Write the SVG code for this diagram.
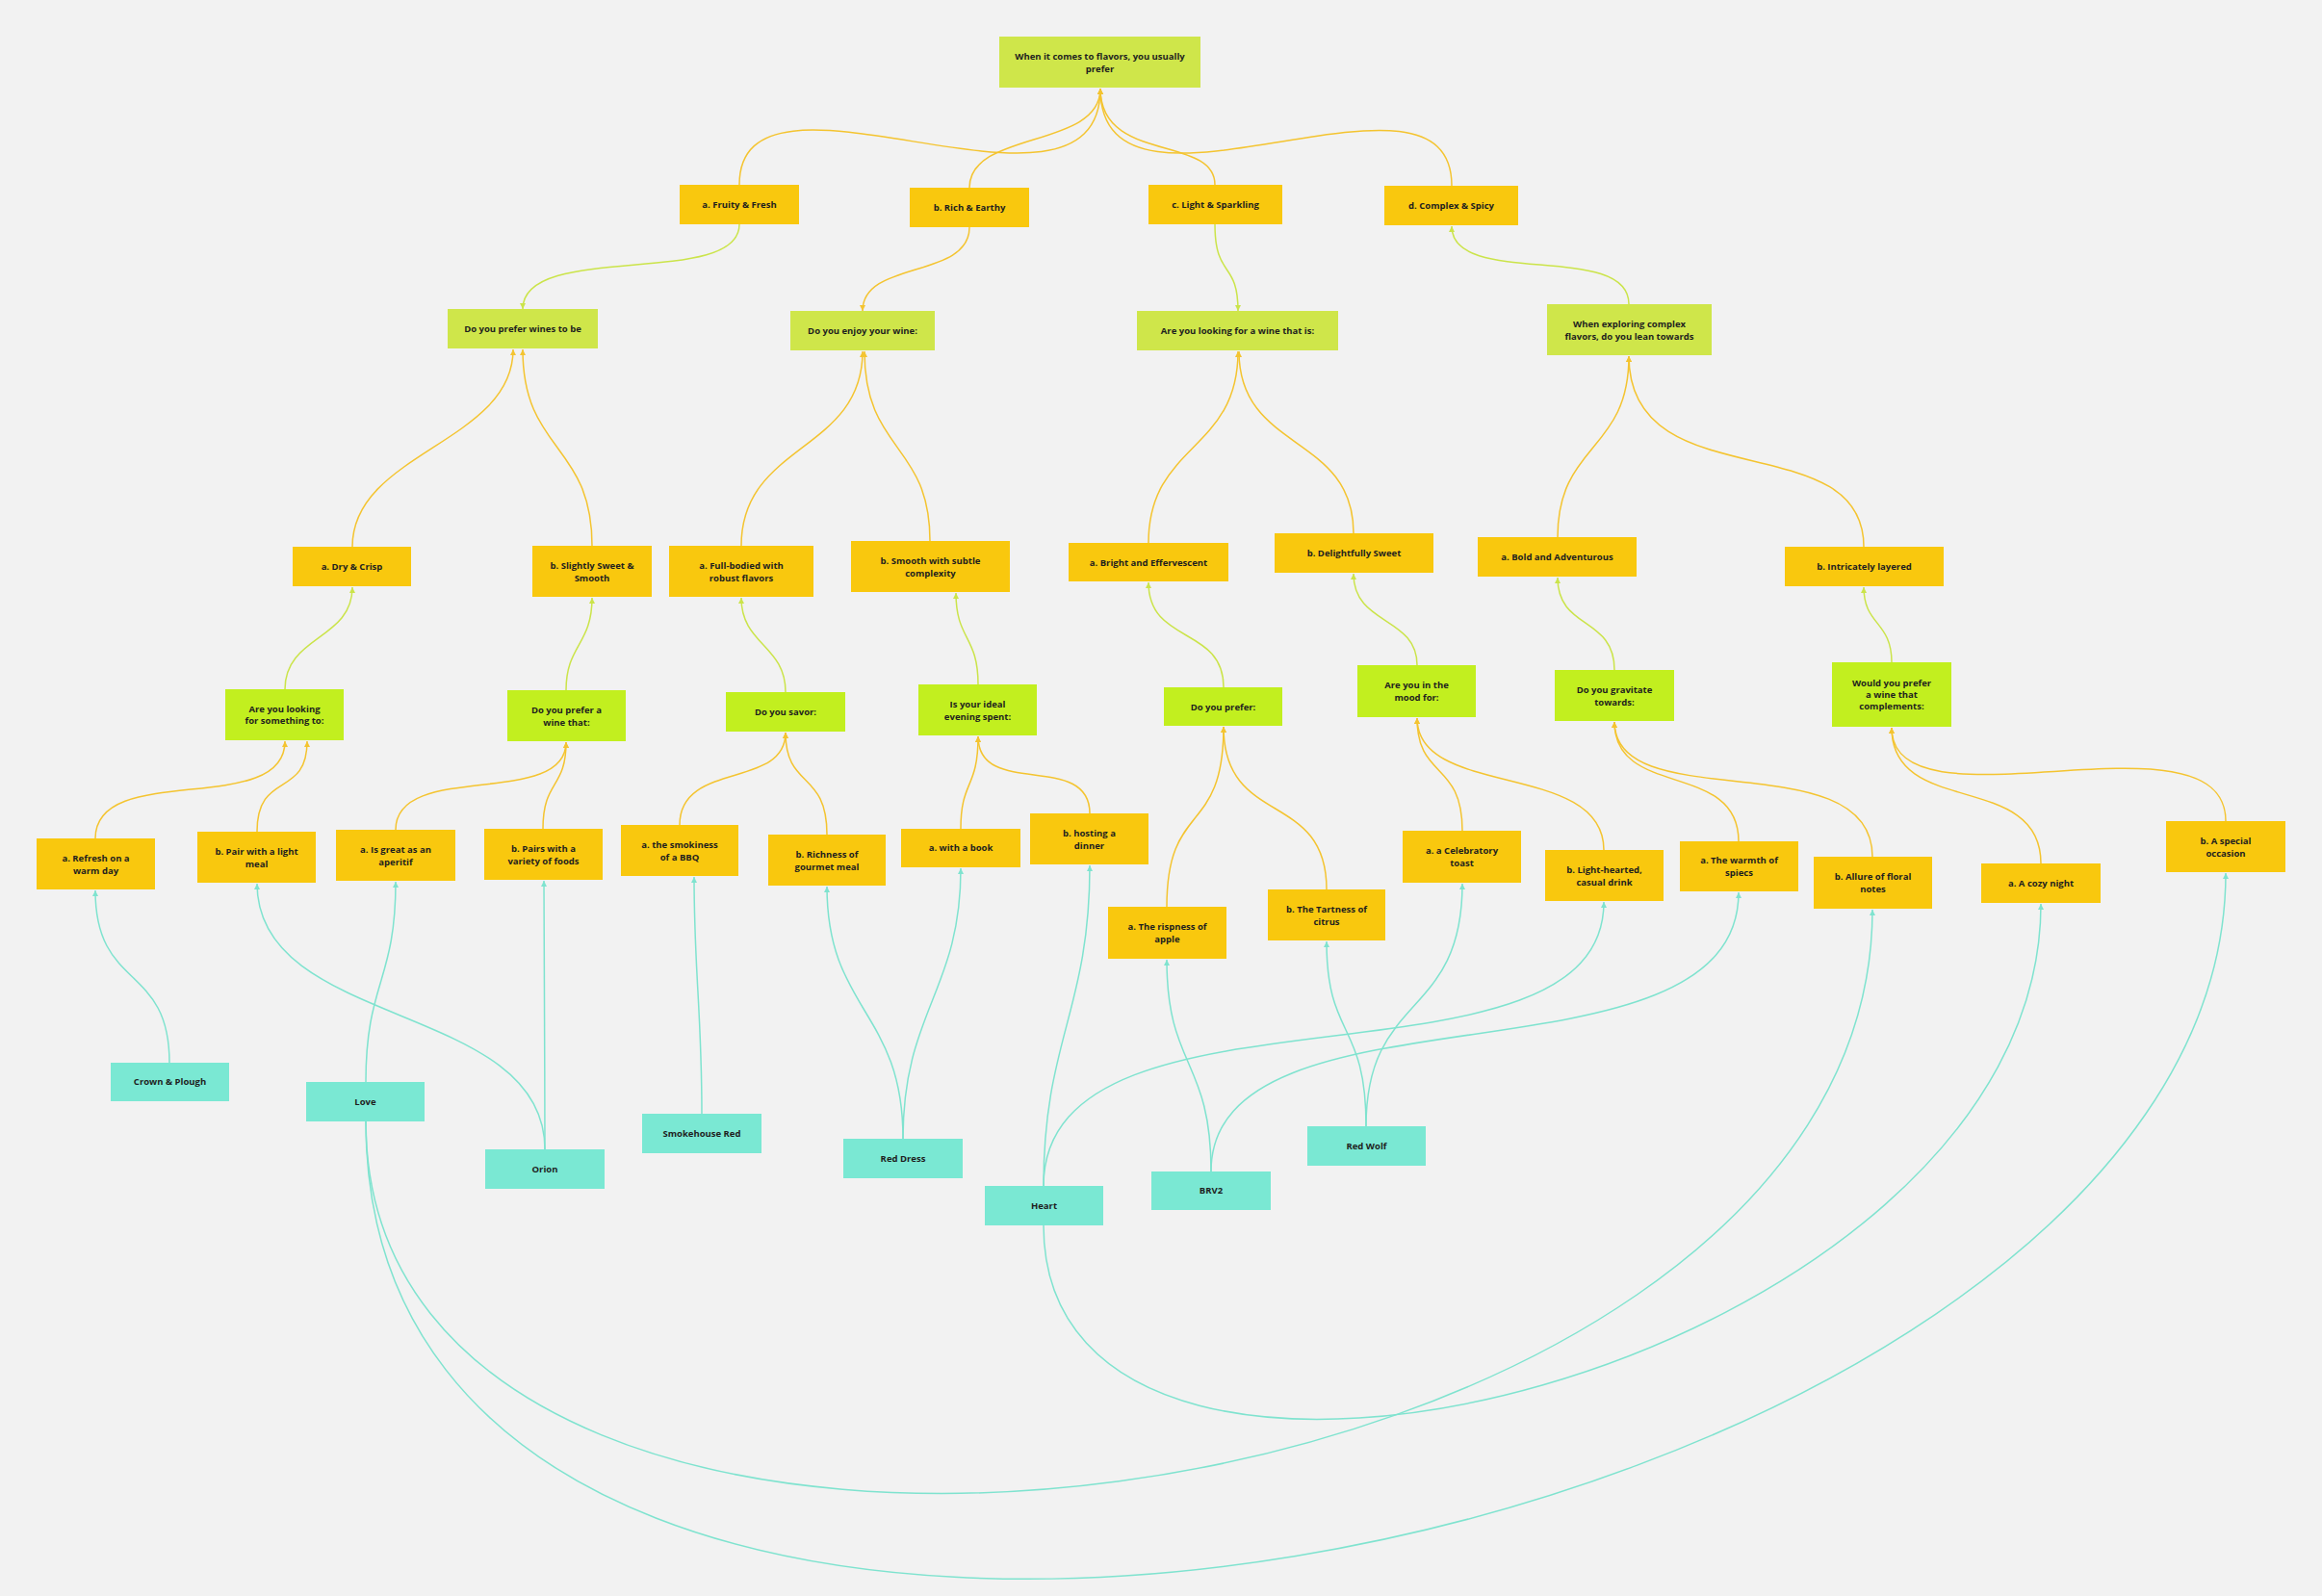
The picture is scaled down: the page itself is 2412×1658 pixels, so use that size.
<svg xmlns="http://www.w3.org/2000/svg" width="2412" height="1658" viewBox="0 0 2412 1658">
<style>
.bg{fill:#f2f2f2}
.root{fill:#cfe64a}
.q2{fill:#cfe64a}
.q4{fill:#c2ef1f}
.ans{fill:#f9c80e}
.wine{fill:#7ae8d3}
text{font-family:"Open Sans","Noto Sans","Liberation Sans",sans-serif;font-weight:700;font-size:9.5px;fill:#1e1e1e;text-anchor:middle}
.c{fill:none;stroke-width:1.5}
.cy{stroke:#f4c430}
.cg{stroke:#cbe44a}
.cc{stroke:#7fe3cf}
</style>
<defs>
<marker id="ay" markerUnits="userSpaceOnUse" markerWidth="7" markerHeight="7" refX="6" refY="3" orient="auto"><path d="M0,0 L6,3 L0,6 z" fill="#f4c430"/></marker>
<marker id="ag" markerUnits="userSpaceOnUse" markerWidth="7" markerHeight="7" refX="6" refY="3" orient="auto"><path d="M0,0 L6,3 L0,6 z" fill="#cbe44a"/></marker>
<marker id="ac" markerUnits="userSpaceOnUse" markerWidth="7" markerHeight="7" refX="6" refY="3" orient="auto"><path d="M0,0 L6,3 L0,6 z" fill="#7fe3cf"/></marker>
</defs>
<rect class="bg" x="0" y="0" width="2412" height="1658"/>
<g id="connectors">
<g class="c cy" marker-end="url(#ay)">
<path d="M768,192 C768,40 1143,260 1143,92"/>
<path d="M1007,195 C1007,135 1143,155 1143,92"/>
<path d="M1262,192 C1262,140 1143,170 1143,92"/>
<path d="M1508,193 C1508,40 1143,260 1143,92"/>
<path d="M1007,236 C1007,290 896,270 896,323"/>
<path d="M366,568 C366,470 533,460 533,363"/>
<path d="M615,567 C615,460 543,470 543,363"/>
<path d="M770,567 C770,460 896,470 896,365"/>
<path d="M966,562 C966,460 898,470 898,365"/>
<path d="M1193,564 C1193,460 1286,470 1286,365"/>
<path d="M1406,554 C1406,450 1287,470 1287,365"/>
<path d="M1618,558 C1618,460 1692,470 1692,370"/>
<path d="M1936,568 C1936,440 1692,520 1692,370"/>
<path d="M99,871 C99,790 296,850 296,770"/>
<path d="M267,864 C267,800 319,830 319,770"/>
<path d="M411,862 C411,790 588,840 588,771"/>
<path d="M564,861 C564,810 588,820 588,771"/>
<path d="M706,857 C706,790 816,820 816,761"/>
<path d="M859,867 C859,800 816,820 816,761"/>
<path d="M998,861 C998,810 1016,820 1016,765"/>
<path d="M1132,845 C1132,780 1016,830 1016,765"/>
<path d="M1212,942 C1212,830 1271,870 1271,755"/>
<path d="M1378,924 C1378,820 1271,860 1271,755"/>
<path d="M1519,863 C1519,790 1472,810 1472,746"/>
<path d="M1666,883 C1666,790 1472,830 1472,746"/>
<path d="M1806,874 C1806,790 1677,830 1677,750"/>
<path d="M1945,890 C1945,770 1677,850 1677,750"/>
<path d="M2120,897 C2120,800 1965,850 1965,756"/>
<path d="M2312,853 C2312,730 1965,870 1965,756"/>
</g>
<g class="c cg" marker-end="url(#ag)">
<path d="M768,233 C768,300 543,250 543,321"/>
<path d="M1262,233 C1262,290 1286,270 1286,323"/>
<path d="M1692,316 C1692,250 1508,300 1508,235"/>
<path d="M296,716 C296,660 366,665 366,610"/>
<path d="M588,717 C588,670 615,670 615,621"/>
<path d="M816,719 C816,670 770,670 770,621"/>
<path d="M1016,711 C1016,660 993,665 993,616"/>
<path d="M1271,714 C1271,650 1193,670 1193,605"/>
<path d="M1472,691 C1472,640 1406,650 1406,596"/>
<path d="M1677,696 C1677,640 1618,655 1618,600"/>
<path d="M1965,688 C1965,645 1936,650 1936,610"/>
</g>
<g class="c cc" marker-end="url(#ac)">
<path d="M176,1104 C176,1000 99,1030 99,925"/>
<path d="M380,1124 C380,1020 411,1020 411,916"/>
<path d="M566,1194 C566,1100 565,1000 565,915"/>
<path d="M566,1194 C566,1040 267,1070 267,918"/>
<path d="M729,1157 C729,1050 721,1010 721,911"/>
<path d="M938,1183 C938,1050 859,1050 859,921"/>
<path d="M938,1183 C938,1050 998,1030 998,902"/>
<path d="M1084,1232 C1084,1080 1132,1050 1132,899"/>
<path d="M1084,1232 C1084,1000 1666,1150 1666,937"/>
<path d="M1258,1217 C1258,1100 1212,1110 1212,997"/>
<path d="M1258,1217 C1258,1010 1806,1140 1806,927"/>
<path d="M1419,1170 C1419,1060 1378,1080 1378,978"/>
<path d="M1419,1170 C1419,1030 1519,1060 1519,918"/>
<path d="M1084,1273 C1084,1680 2120,1420 2120,939"/>
<path d="M380,1165 C380,1800 1945,1600 1945,945"/>
<path d="M380,1165 C380,2000 2312,1620 2312,907"/>
</g>
</g>
<g id="root"><rect class="root" x="1038" y="38" width="209" height="53"/><text x="1142.5" y="62">When it comes to flavors, you usually</text><text x="1142.5" y="75">prefer</text></g>
<g id="fruity"><rect class="ans" x="706" y="192" width="124" height="41"/><text x="768" y="216">a. Fruity &amp; Fresh</text></g>
<g id="rich"><rect class="ans" x="945" y="195" width="124" height="41"/><text x="1007" y="219">b. Rich &amp; Earthy</text></g>
<g id="light"><rect class="ans" x="1193" y="192" width="139" height="41"/><text x="1262.5" y="216">c. Light &amp; Sparkling</text></g>
<g id="complex"><rect class="ans" x="1438" y="193" width="139" height="41"/><text x="1507.5" y="217">d. Complex &amp; Spicy</text></g>
<g id="q-wines-to-be"><rect class="q2" x="465" y="321" width="156" height="41"/><text x="543" y="345">Do you prefer wines to be</text></g>
<g id="q-enjoy"><rect class="q2" x="821" y="323" width="150" height="41"/><text x="896" y="347">Do you enjoy your wine:</text></g>
<g id="q-looking-wine"><rect class="q2" x="1181" y="323" width="209" height="41"/><text x="1285.5" y="347">Are you looking for a wine that is:</text></g>
<g id="q-exploring"><rect class="q2" x="1607" y="316" width="171" height="53"/><text x="1692.5" y="340">When exploring complex</text><text x="1692.5" y="353">flavors, do you lean towards</text></g>
<g id="a-dry"><rect class="ans" x="304" y="568" width="123" height="41"/><text x="365.5" y="592">a. Dry &amp; Crisp</text></g>
<g id="b-sweet"><rect class="ans" x="553" y="567" width="124" height="53"/><text x="615" y="591">b. Slightly Sweet &amp;</text><text x="615" y="604">Smooth</text></g>
<g id="a-full"><rect class="ans" x="695" y="567" width="150" height="53"/><text x="770" y="591">a. Full-bodied with</text><text x="770" y="604">robust flavors</text></g>
<g id="b-smooth"><rect class="ans" x="884" y="562" width="165" height="53"/><text x="966.5" y="586">b. Smooth with subtle</text><text x="966.5" y="599">complexity</text></g>
<g id="a-bright"><rect class="ans" x="1110" y="564" width="166" height="40"/><text x="1193" y="588">a. Bright and Effervescent</text></g>
<g id="b-delight"><rect class="ans" x="1324" y="554" width="165" height="41"/><text x="1406.5" y="578">b. Delightfully Sweet</text></g>
<g id="a-bold"><rect class="ans" x="1535" y="558" width="165" height="41"/><text x="1617.5" y="582">a. Bold and Adventurous</text></g>
<g id="b-intricate"><rect class="ans" x="1854" y="568" width="165" height="41"/><text x="1936.5" y="592">b. Intricately layered</text></g>
<g id="q-something"><rect class="q4" x="234" y="716" width="123" height="53"/><text x="295.5" y="740">Are you looking</text><text x="295.5" y="752">for something to:</text></g>
<g id="q-prefer-wine"><rect class="q4" x="527" y="717" width="123" height="53"/><text x="588.5" y="741">Do you prefer a</text><text x="588.5" y="754">wine that:</text></g>
<g id="q-savor"><rect class="q4" x="754" y="719" width="124" height="41"/><text x="816" y="743">Do you savor:</text></g>
<g id="q-evening"><rect class="q4" x="954" y="711" width="123" height="53"/><text x="1015.5" y="735">Is your ideal</text><text x="1015.5" y="748">evening spent:</text></g>
<g id="q-prefer"><rect class="q4" x="1209" y="714" width="123" height="40"/><text x="1270.5" y="738">Do you prefer:</text></g>
<g id="q-mood"><rect class="q4" x="1410" y="691" width="123" height="54"/><text x="1471.5" y="715">Are you in the</text><text x="1471.5" y="728">mood for:</text></g>
<g id="q-gravitate"><rect class="q4" x="1615" y="696" width="124" height="53"/><text x="1677" y="720">Do you gravitate</text><text x="1677" y="733">towards:</text></g>
<g id="q-complements"><rect class="q4" x="1903" y="688" width="124" height="67"/><text x="1965" y="713">Would you prefer</text><text x="1965" y="725">a wine that</text><text x="1965" y="737">complements:</text></g>
<g id="a-refresh"><rect class="ans" x="38" y="871" width="123" height="53"/><text x="99.5" y="895">a. Refresh on a</text><text x="99.5" y="908">warm day</text></g>
<g id="b-pair"><rect class="ans" x="205" y="864" width="123" height="53"/><text x="266.5" y="888">b. Pair with a light</text><text x="266.5" y="901">meal</text></g>
<g id="a-aperitif"><rect class="ans" x="349" y="862" width="124" height="53"/><text x="411" y="886">a. Is great as an</text><text x="411" y="899">aperitif</text></g>
<g id="b-variety"><rect class="ans" x="503" y="861" width="123" height="53"/><text x="564.5" y="885">b. Pairs with a</text><text x="564.5" y="898">variety of foods</text></g>
<g id="a-smoky"><rect class="ans" x="645" y="857" width="122" height="53"/><text x="706" y="881">a. the smokiness</text><text x="706" y="894">of a BBQ</text></g>
<g id="b-gourmet"><rect class="ans" x="798" y="867" width="122" height="53"/><text x="859" y="891">b. Richness of</text><text x="859" y="904">gourmet meal</text></g>
<g id="a-book"><rect class="ans" x="936" y="861" width="124" height="40"/><text x="998" y="884">a. with a book</text></g>
<g id="b-hosting"><rect class="ans" x="1070" y="845" width="123" height="53"/><text x="1131.5" y="869">b. hosting a</text><text x="1131.5" y="882">dinner</text></g>
<g id="a-apple"><rect class="ans" x="1151" y="942" width="123" height="54"/><text x="1212.5" y="966">a. The rispness of</text><text x="1212.5" y="979">apple</text></g>
<g id="b-citrus"><rect class="ans" x="1317" y="924" width="122" height="53"/><text x="1378" y="948">b. The Tartness of</text><text x="1378" y="961">citrus</text></g>
<g id="a-toast"><rect class="ans" x="1457" y="863" width="123" height="54"/><text x="1518.5" y="887">a. a Celebratory</text><text x="1518.5" y="900">toast</text></g>
<g id="b-casual"><rect class="ans" x="1605" y="883" width="123" height="53"/><text x="1666.5" y="907">b. Light-hearted,</text><text x="1666.5" y="920">casual drink</text></g>
<g id="a-spices"><rect class="ans" x="1745" y="874" width="123" height="52"/><text x="1806.5" y="897">a. The warmth of</text><text x="1806.5" y="910">spiecs</text></g>
<g id="b-floral"><rect class="ans" x="1884" y="890" width="123" height="54"/><text x="1945.5" y="914">b. Allure of floral</text><text x="1945.5" y="927">notes</text></g>
<g id="a-cozy"><rect class="ans" x="2058" y="897" width="124" height="41"/><text x="2120" y="921">a. A cozy night</text></g>
<g id="b-special"><rect class="ans" x="2250" y="853" width="124" height="53"/><text x="2312" y="877">b. A special</text><text x="2312" y="890">occasion</text></g>
<g id="w-crown"><rect class="wine" x="115" y="1104" width="123" height="40"/><text x="176.5" y="1127">Crown &amp; Plough</text></g>
<g id="w-love"><rect class="wine" x="318" y="1124" width="123" height="41"/><text x="379.5" y="1148">Love</text></g>
<g id="w-orion"><rect class="wine" x="504" y="1194" width="124" height="41"/><text x="566" y="1218">Orion</text></g>
<g id="w-smokehouse"><rect class="wine" x="667" y="1157" width="124" height="41"/><text x="729" y="1181">Smokehouse Red</text></g>
<g id="w-reddress"><rect class="wine" x="876" y="1183" width="124" height="41"/><text x="938" y="1207">Red Dress</text></g>
<g id="w-heart"><rect class="wine" x="1023" y="1232" width="123" height="41"/><text x="1084.5" y="1256">Heart</text></g>
<g id="w-brv2"><rect class="wine" x="1196" y="1217" width="124" height="40"/><text x="1258" y="1240">BRV2</text></g>
<g id="w-redwolf"><rect class="wine" x="1358" y="1170" width="123" height="41"/><text x="1419.5" y="1194">Red Wolf</text></g>
</svg>
